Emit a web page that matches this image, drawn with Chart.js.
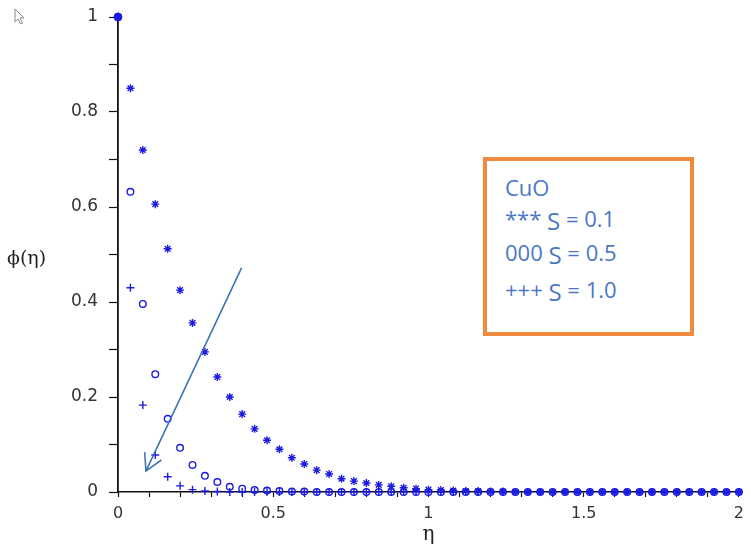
<!DOCTYPE html>
<html>
<head>
<meta charset="utf-8">
<script src="https://cdn.jsdelivr.net/npm/chart.js@4/dist/chart.umd.min.js"></script>
<style>
  html, body { margin: 0; padding: 0; background: #fff; }
  #wrap { position: relative; width: 751px; height: 547px; overflow: hidden; }
  #plot { position: absolute; left: 0; top: 0; }
  #cursor { position: absolute; left: 14px; top: 8px; }
  #key {
    position: absolute; left: 483px; top: 157px; width: 203px; height: 171px;
    border: 4px solid #f08a3c; background: #fff;
    font-family: "Open Sans", "Liberation Sans", sans-serif; font-size: 22px; color: #4b78c3;
  }
  #key div { position: absolute; left: 18px; white-space: nowrap; line-height: 24px; }
  #key .s { font-size: 24px; position: relative; top: 3px; }
</style>
</head>
<body>
<div id="wrap">
  <canvas id="plot" width="751" height="547"></canvas>
  <svg id="cursor" width="12" height="18" viewBox="0 0 12 18">
    <path d="M1 1 L1 14 L4 11 L6.5 16 L8.5 15 L6 10 L10 10 Z" fill="#fff" stroke="#888" stroke-width="1"/>
  </svg>
  <div id="key">
    <div style="top:14px">CuO</div>
    <div style="top:45px">*** <span class="s">S</span> = 0.1</div>
    <div style="top:79px">000 <span class="s">S</span> = 0.5</div>
    <div style="top:116px">+++ <span class="s">S</span> = 1.0</div>
  </div>
</div>
<script>
// similarity variable η
const eta = [
  0.00, 0.04, 0.08, 0.12, 0.16, 0.20, 0.24, 0.28, 0.32, 0.36,
  0.40, 0.44, 0.48, 0.52, 0.56, 0.60, 0.64, 0.68, 0.72, 0.76,
  0.80, 0.84, 0.88, 0.92, 0.96, 1.00, 1.04, 1.08, 1.12, 1.16,
  1.20, 1.24, 1.28, 1.32, 1.36, 1.40, 1.44, 1.48, 1.52, 1.56,
  1.60, 1.64, 1.68, 1.72, 1.76, 1.80, 1.84, 1.88, 1.92, 1.96,
  2.00
];

// concentration profile φ(η) for CuO, S = 0.1
const phiS01 = [
  1, 0.850, 0.720, 0.606, 0.512, 0.425, 0.356, 0.295, 0.242, 0.200,
  0.164, 0.133, 0.109, 0.090, 0.072, 0.059, 0.046, 0.038, 0.028, 0.023,
  0.019, 0.015, 0.012, 0.009, 0.007, 0.005, 0.004, 0.003, 0.002, 0.002,
  0.001, 0.001, 0, 0, 0, 0, 0, 0, 0, 0,
  0, 0, 0, 0, 0, 0, 0, 0, 0, 0,
  0
];

// S = 0.5
const phiS05 = [
  1, 0.632, 0.396, 0.248, 0.154, 0.093, 0.057, 0.034, 0.021, 0.011,
  0.007, 0.004, 0.003, 0.002, 0.001, 0.001, 0, 0, 0, 0,
  0, 0, 0, 0, 0, 0, 0, 0, 0, 0,
  0, 0, 0, 0, 0, 0, 0, 0, 0, 0,
  0, 0, 0, 0, 0, 0, 0, 0, 0, 0,
  0
];

// S = 1.0
const phiS10 = [
  1, 0.430, 0.183, 0.078, 0.032, 0.013, 0.005, 0.002, 0.001, 0,
  0, 0, 0, 0, 0, 0, 0, 0, 0, 0,
  0, 0, 0, 0, 0, 0, 0, 0, 0, 0,
  0, 0, 0, 0, 0, 0, 0, 0, 0, 0,
  0, 0, 0, 0, 0, 0, 0, 0, 0, 0,
  0
];

// labelled tick values
const xTickLabels = [0, 0.5, 1, 1.5, 2];
const yTickLabels = [0, 0.2, 0.4, 0.6, 0.8, 1];

// arrow showing the direction of increasing S (tail, head) in data units
const arrowTail = { x: 0.398, y: 0.472 };
const arrowHead = { x: 0.090, y: 0.044 };

const MARK = '#1c1ce0';
const AXIS = '#111';

function labelled(list, v) {
  return list.some(t => Math.abs(t - v) < 1e-6);
}
function fmt(v) {
  const r = Math.round(v * 10) / 10;
  return String(r);
}

function series(label, values, style, radius) {
  return {
    label,
    data: eta.map((x, i) => ({ x, y: values[i] })),
    showLine: false,
    clip: false,
    borderColor: MARK,
    backgroundColor: ctx => ctx.dataIndex === 0 ? MARK : 'rgba(0,0,0,0)',
    pointStyle: ctx => ctx.dataIndex === 0 ? 'circle' : style,
    pointRadius: ctx => ctx.dataIndex === 0 ? 3.5 : radius,
    pointBorderWidth: 1.4
  };
}

const overlay = {
  id: 'overlay',
  afterDraw(chart) {
    const { ctx, scales: { x, y } } = chart;
    ctx.save();
    // y-axis title, written horizontally
    ctx.fillStyle = '#222';
    ctx.font = '19px "DejaVu Serif", serif';
    ctx.textAlign = 'left';
    ctx.textBaseline = 'middle';
    ctx.fillText('\u03D5(\u03B7)', 7, 259);

    // arrow
    const x0 = x.getPixelForValue(arrowTail.x), y0 = y.getPixelForValue(arrowTail.y);
    const x1 = x.getPixelForValue(arrowHead.x), y1 = y.getPixelForValue(arrowHead.y);
    const ang = Math.atan2(y0 - y1, x0 - x1);
    const len = 19, spread = 29 * Math.PI / 180;
    ctx.strokeStyle = '#3f72b8';
    ctx.lineWidth = 1.6;
    ctx.beginPath();
    ctx.moveTo(x0, y0);
    ctx.lineTo(x1, y1);
    ctx.moveTo(x1 + len * Math.cos(ang - spread), y1 + len * Math.sin(ang - spread));
    ctx.lineTo(x1, y1);
    ctx.lineTo(x1 + len * Math.cos(ang + spread), y1 + len * Math.sin(ang + spread));
    ctx.stroke();
    ctx.restore();
  }
};

new Chart(document.getElementById('plot'), {
  type: 'scatter',
  data: {
    datasets: [
      series('S = 0.1', phiS01, 'star', 4),
      series('S = 0.5', phiS05, 'circle', 3.3),
      series('S = 1.0', phiS10, 'cross', 4)
    ]
  },
  plugins: [overlay],
  options: {
    responsive: false,
    animation: false,
    events: [],
    layout: { padding: { top: 17, right: 9, left: 0, bottom: 0 } },
    plugins: { legend: { display: false }, tooltip: { enabled: false } },
    scales: {
      x: {
        type: 'linear', min: 0, max: 2,
        afterFit: s => { s.height = 55; },
        border: { display: true, color: AXIS, width: 1.5 },
        grid: { drawOnChartArea: false, drawTicks: true, tickLength: 5, color: AXIS, tickWidth: 1.2 },
        ticks: {
          stepSize: 0.1, autoSkip: false, maxRotation: 0, padding: 7,
          color: '#333', font: { family: '"DejaVu Sans", sans-serif', size: 16 },
          callback: v => labelled(xTickLabels, v) ? fmt(v) : ''
        },
        title: {
          display: true, text: '\u03B7', color: '#222',
          font: { family: '"DejaVu Serif", serif', size: 20 },
          padding: { top: 0, bottom: 0 }
        }
      },
      y: {
        type: 'linear', min: 0, max: 1,
        afterFit: s => { s.width = 118; s.paddingTop = 8; s.paddingBottom = 8; },
        border: { display: true, color: AXIS, width: 1.8 },
        grid: { drawOnChartArea: false, drawTicks: true, tickLength: 9, color: AXIS, tickWidth: 1.2 },
        ticks: {
          stepSize: 0.1, autoSkip: false, padding: 11,
          color: '#333', font: { family: '"DejaVu Sans", sans-serif', size: 17 },
          callback: v => labelled(yTickLabels, v) ? fmt(v) : ''
        }
      }
    }
  }
});
</script>
</body>
</html>
